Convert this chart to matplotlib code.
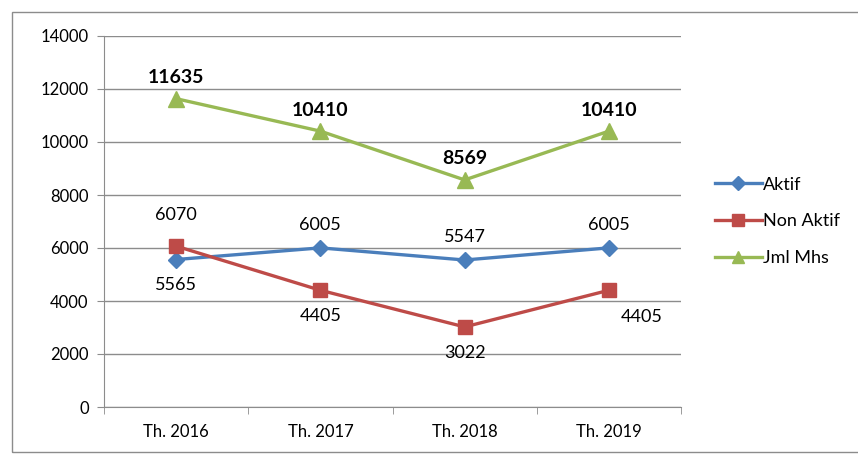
import matplotlib.pyplot as plt
from matplotlib.patches import Rectangle

categories = ["Th. 2016", "Th. 2017", "Th. 2018", "Th. 2019"]
aktif = [5565, 6005, 5547, 6005]
non_aktif = [6070, 4405, 3022, 4405]
jml_mhs = [11635, 10410, 8569, 10410]

# label offsets in pixels (dx, dy) per point
aktif_off = [(0, -25), (0, 23), (0, 23), (0, 23)]
non_aktif_off = [(0, 31), (0, -26), (0, -26), (33, -27)]
jml_off = [(0, 21), (0, 21), (0, 21), (0, 21)]

plt.rcParams["font.family"] = ["Lato", "DejaVu Sans"]

fig = plt.figure(figsize=(8.58, 4.57), dpi=100)
fig.patches.append(Rectangle((12 / 858, 5 / 457), 1.2, 440 / 457, transform=fig.transFigure,
                             fill=False, edgecolor="#8c8c8c", linewidth=1))
ax = fig.add_axes([104 / 858, 50 / 457, 577 / 858, 371 / 457])

x = list(range(len(categories)))
series = [
    ("Aktif", aktif, "#4a7ebb", "D", 8, aktif_off, "normal", 13),
    ("Non Aktif", non_aktif, "#be4b48", "s", 10, non_aktif_off, "normal", 13),
    ("Jml Mhs", jml_mhs, "#98b954", "^", 11, jml_off, "bold", 14),
]
for name, vals, color, marker, ms, offs, weight, fs in series:
    ax.plot(x, vals, color=color, marker=marker, markersize=ms, linewidth=2.4, label=name)
    for xi, v, (dx, dy) in zip(x, vals, offs):
        ax.annotate(str(v), (xi, v), xytext=(dx, dy), textcoords="offset pixels",
                    ha="center", va="center", fontsize=fs, fontweight=weight, color="black")

ax.set_xlim(-0.5, len(categories) - 0.5)
ax.set_ylim(0, 14000)
ax.set_yticks(range(0, 14001, 2000))
ax.set_xticks(x)
ax.set_xticklabels(categories)
ax.set_xticks([i - 0.5 for i in range(len(categories) + 1)], minor=True)
ax.tick_params(axis="x", which="major", length=0, pad=12, labelsize=12)
ax.tick_params(axis="x", which="minor", length=5, color="#8c8c8c", direction="out")
ax.tick_params(axis="y", length=5, color="#8c8c8c", labelsize=12, pad=6)
ax.grid(axis="y", color="#8c8c8c", linewidth=1)
ax.set_axisbelow(True)
for side in ["top", "right"]:
    ax.spines[side].set_visible(False)
for side in ["left", "bottom"]:
    ax.spines[side].set_color("#8c8c8c")

ax.legend(loc="center left", bbox_to_anchor=(1.03, 0.5), frameon=False, fontsize=13,
          handlelength=2.6, labelspacing=1.15, handletextpad=0.1, markerscale=0.85)

fig.savefig("out.png", dpi=100)
